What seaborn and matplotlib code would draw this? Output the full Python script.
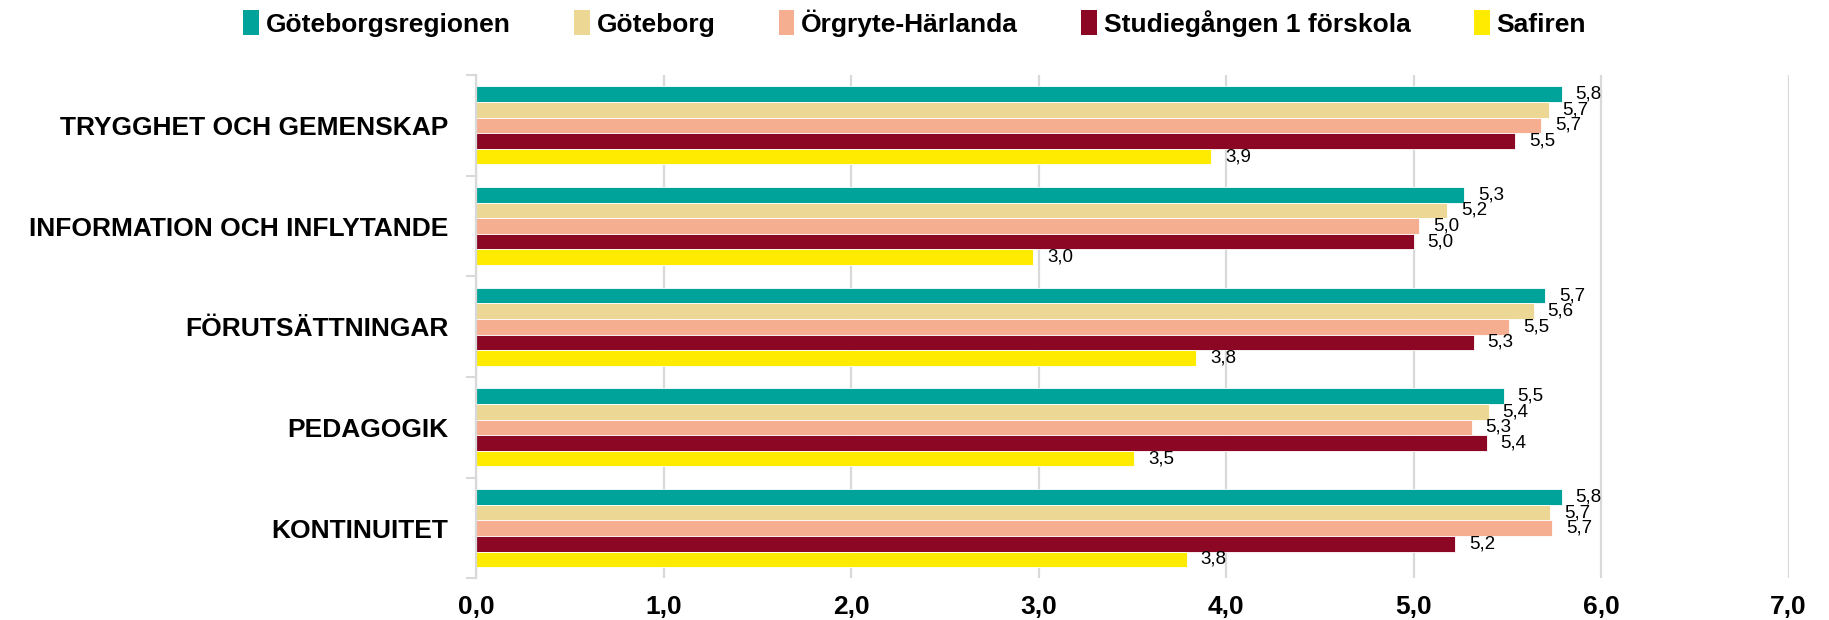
import matplotlib
matplotlib.use("Agg")
import matplotlib.pyplot as plt
from matplotlib.patches import Patch
import seaborn as sns
import pandas as pd
import numpy as np

categories = ["TRYGGHET OCH GEMENSKAP", "INFORMATION OCH INFLYTANDE",
              "FÖRUTSÄTTNINGAR", "PEDAGOGIK", "KONTINUITET"]
series = ["Göteborgsregionen", "Göteborg", "Örgryte-Härlanda",
          "Studiegången 1 förskola", "Safiren"]
goteborgsregionen = [5.79, 5.27, 5.70, 5.48, 5.79]
goteborg = [5.72, 5.18, 5.64, 5.40, 5.73]
orgryte = [5.68, 5.03, 5.51, 5.31, 5.74]
studiegangen = [5.54, 5.00, 5.32, 5.39, 5.22]
safiren = [3.92, 2.97, 3.84, 3.51, 3.79]
xticks = [0, 1, 2, 3, 4, 5, 6, 7]
xtick_labels = ["0,0", "1,0", "2,0", "3,0", "4,0", "5,0", "6,0", "7,0"]

colors = ["#00a39a", "#ecd894", "#f6ae91", "#8b0724", "#ffeb00"]

values = [goteborgsregionen, goteborg, orgryte, studiegangen, safiren]
rows = []
for s, vals in zip(series, values):
    for c, v in zip(categories, vals):
        rows.append({"category": c, "series": s, "value": v})
df = pd.DataFrame(rows)

sns.set_theme(style="white")
fam = ["Liberation Sans", "DejaVu Sans"]
plt.rcParams["font.family"] = fam
plt.rcParams["text.color"] = "black"
plt.rcParams["xtick.color"] = "black"
plt.rcParams["ytick.color"] = "black"

fig = plt.figure(figsize=(18.29, 6.2), dpi=100)
ax = fig.add_axes([0.2603, 0.067, 0.9779 - 0.2603, 0.879 - 0.067])

sns.barplot(data=df, y="category", x="value", hue="series", orient="h",
            order=categories, hue_order=series, palette=colors, saturation=1,
            width=0.775, edgecolor="white", linewidth=0.6, ax=ax, legend=False)

for cont in ax.containers:
    labels = [f"{b.get_width():.1f}".replace(".", ",") for b in cont]
    ax.bar_label(cont, labels=labels, padding=10, fontsize=13.5,
                 family=fam, color="black")

ax.set_xlim(0, 7)
ax.set_ylim(len(categories) - 0.5, -0.5)
ax.set_xticks(xticks)
ax.set_xticklabels(xtick_labels, fontweight="bold", fontsize=19)
ax.set_yticklabels(categories, fontweight="bold", fontsize=19)
ax.set_xlabel("")
ax.set_ylabel("")

ax.grid(axis="x", color="#d9d9d9", linewidth=1.6)
ax.grid(axis="y", visible=False)
ax.set_axisbelow(True)
for sp in ["top", "right", "bottom"]:
    ax.spines[sp].set_visible(False)
ax.spines["left"].set_color("#d9d9d9")
ax.spines["left"].set_linewidth(1.6)

ax.tick_params(axis="y", which="major", length=0, pad=20, labelcolor="black")
ax.tick_params(axis="x", which="major", length=0, pad=12, labelcolor="black")
ax.set_yticks(np.arange(-0.5, len(categories) + 0.5, 1), minor=True)
ax.tick_params(axis="y", which="minor", length=7, width=1.5, color="#d9d9d9",
               direction="out", left=True)

handles = [Patch(facecolor=c, edgecolor="none") for c in colors]
fig.legend(handles, series, loc="center", bbox_to_anchor=(0.5, 1 - 23 / 620),
           ncol=5, frameon=False, handlelength=0.6, handleheight=1.1,
           handletextpad=0.25, columnspacing=2.4,
           prop={"family": fam, "weight": "bold", "size": 19})

fig.savefig("out.png", dpi=100)
